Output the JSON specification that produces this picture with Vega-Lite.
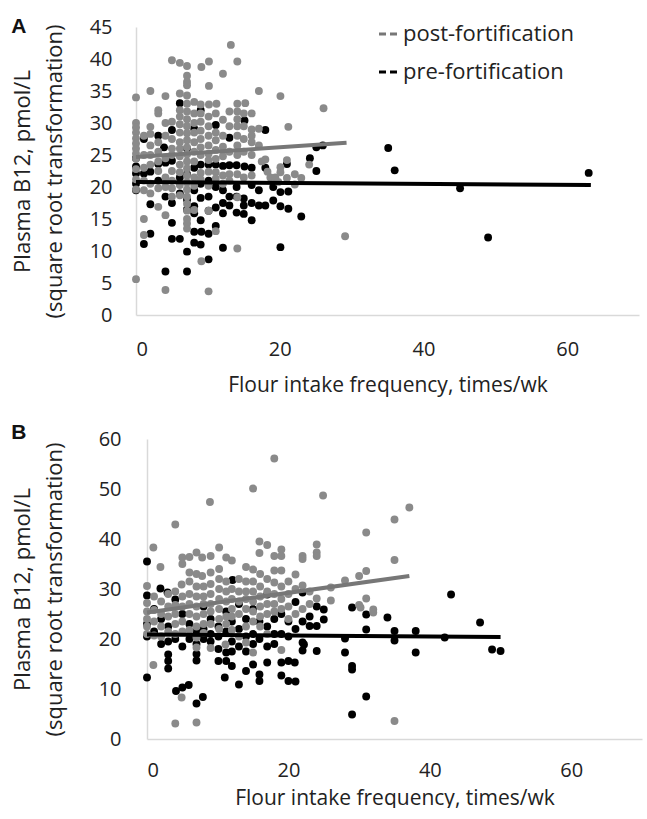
{
  "$schema": "https://vega.github.io/schema/vega-lite/v6.json",
  "background": "white",
  "padding": {"left": 11, "top": 16, "right": 2, "bottom": 0},
  "config": {
    "font": "Open Sans",
    "view": {"stroke": null},
    "axis": {"grid": false, "ticks": false, "labelOverlap": false, "domainColor": "#d9d9d9", "domainWidth": 1.5, "labelFont": "Open Sans", "labelFontSize": 20, "labelColor": "#222222", "titleFont": "Open Sans", "titleFontSize": 21, "titleFontWeight": "normal", "titleColor": "#222222"},
    "title": {"font": "Liberation Sans", "fontSize": 21, "fontWeight": "bold", "color": "#111111", "anchor": "start", "frame": "bounds"}
  },
  "datasets": {
    "a": [
      {"x":0,"y":24.5,"g":"pre"},{"x":0,"y":23.2,"g":"pre"},{"x":0,"y":22.1,"g":"pre"},{"x":0,"y":20.5,"g":"pre"},{"x":0,"y":19.5,"g":"pre"},
      {"x":1.1,"y":27.5,"g":"pre"},{"x":1.1,"y":22.1,"g":"pre"},{"x":1.1,"y":11.1,"g":"pre"},
      {"x":2,"y":22.4,"g":"pre"},{"x":2,"y":17.3,"g":"pre"},{"x":2,"y":12.7,"g":"pre"},
      {"x":3.1,"y":28,"g":"pre"},{"x":3.1,"y":23.6,"g":"pre"},{"x":3.1,"y":21,"g":"pre"},
      {"x":3.9,"y":26.2,"g":"pre"},{"x":4.1,"y":23.8,"g":"pre"},{"x":4.1,"y":6.8,"g":"pre"},{"x":4.1,"y":18.5,"g":"pre"},
      {"x":5,"y":28.9,"g":"pre"},{"x":5,"y":24.1,"g":"pre"},{"x":5,"y":14.4,"g":"pre"},{"x":5,"y":11.9,"g":"pre"},{"x":5,"y":17.5,"g":"pre"},
      {"x":6.1,"y":33.1,"g":"pre"},{"x":6.1,"y":21.5,"g":"pre"},{"x":6.1,"y":11.9,"g":"pre"},{"x":6.1,"y":19,"g":"pre"},
      {"x":7.1,"y":26,"g":"pre"},{"x":7.1,"y":22,"g":"pre"},{"x":7.1,"y":18,"g":"pre"},{"x":7.1,"y":16.5,"g":"pre"},{"x":7.1,"y":9.9,"g":"pre"},{"x":7.1,"y":6.8,"g":"pre"},
      {"x":8.1,"y":29.1,"g":"pre"},{"x":8.1,"y":23,"g":"pre"},{"x":8.1,"y":19.5,"g":"pre"},{"x":8.1,"y":17,"g":"pre"},{"x":8.1,"y":15.9,"g":"pre"},{"x":8.1,"y":13,"g":"pre"},{"x":8.1,"y":11.3,"g":"pre"},
      {"x":9,"y":32,"g":"pre"},{"x":9,"y":23.5,"g":"pre"},{"x":9,"y":20.5,"g":"pre"},{"x":9,"y":18.3,"g":"pre"},{"x":9,"y":14.8,"g":"pre"},{"x":9.1,"y":13,"g":"pre"},{"x":9,"y":11,"g":"pre"},
      {"x":10.1,"y":23.5,"g":"pre"},{"x":10.1,"y":21,"g":"pre"},{"x":10.1,"y":18.5,"g":"pre"},{"x":10.1,"y":16.3,"g":"pre"},{"x":10.1,"y":12.7,"g":"pre"},{"x":10.1,"y":8.7,"g":"pre"},
      {"x":11.1,"y":29.7,"g":"pre"},{"x":11.1,"y":23.5,"g":"pre"},{"x":11.1,"y":20,"g":"pre"},{"x":11.1,"y":16.8,"g":"pre"},{"x":11.1,"y":13.9,"g":"pre"},
      {"x":12.1,"y":23.3,"g":"pre"},{"x":12.1,"y":19.5,"g":"pre"},{"x":12.1,"y":17.5,"g":"pre"},{"x":12.1,"y":15.9,"g":"pre"},{"x":12.1,"y":10.5,"g":"pre"},
      {"x":13,"y":27.7,"g":"pre"},{"x":13,"y":23.4,"g":"pre"},{"x":13,"y":18.5,"g":"pre"},{"x":13,"y":17.1,"g":"pre"},
      {"x":14,"y":23.4,"g":"pre"},{"x":14,"y":20,"g":"pre"},{"x":14,"y":18.5,"g":"pre"},{"x":14,"y":16,"g":"pre"},
      {"x":15.1,"y":30.4,"g":"pre"},{"x":15.1,"y":23.2,"g":"pre"},{"x":15,"y":18.2,"g":"pre"},{"x":15,"y":17.1,"g":"pre"},{"x":15,"y":15.8,"g":"pre"},
      {"x":16.1,"y":23,"g":"pre"},{"x":16.1,"y":20.3,"g":"pre"},{"x":16.1,"y":14.8,"g":"pre"},{"x":16.1,"y":17.5,"g":"pre"},
      {"x":17.1,"y":17.1,"g":"pre"},{"x":17.1,"y":19.5,"g":"pre"},
      {"x":18,"y":28.9,"g":"pre"},{"x":18,"y":23,"g":"pre"},{"x":18,"y":17.1,"g":"pre"},
      {"x":19.1,"y":17.9,"g":"pre"},{"x":19.1,"y":20,"g":"pre"},
      {"x":20.1,"y":19.2,"g":"pre"},{"x":20.1,"y":17,"g":"pre"},{"x":20.1,"y":10.6,"g":"pre"},
      {"x":21.2,"y":19.3,"g":"pre"},{"x":21.2,"y":16.6,"g":"pre"},{"x":21,"y":23.6,"g":"pre"},
      {"x":23,"y":15.4,"g":"pre"},{"x":24.2,"y":24.5,"g":"pre"},{"x":25.1,"y":22.5,"g":"pre"},{"x":25.1,"y":26.2,"g":"pre"},{"x":26,"y":26.5,"g":"pre"},
      {"x":35.1,"y":26.1,"g":"pre"},{"x":36,"y":22.6,"g":"pre"},{"x":45.1,"y":19.8,"g":"pre"},{"x":49,"y":12.1,"g":"pre"},{"x":63,"y":22.2,"g":"pre"},

      {"x":0,"y":34,"g":"post"},{"x":0,"y":30,"g":"post"},{"x":0,"y":29.3,"g":"post"},{"x":0,"y":28.5,"g":"post"},{"x":0,"y":27.6,"g":"post"},{"x":0,"y":26.8,"g":"post"},{"x":0,"y":26,"g":"post"},{"x":0,"y":25.2,"g":"post"},{"x":0,"y":24.4,"g":"post"},{"x":0,"y":22.8,"g":"post"},{"x":0,"y":21.2,"g":"post"},{"x":0,"y":19.6,"g":"post"},{"x":0,"y":5.6,"g":"post"},
      {"x":1.1,"y":28,"g":"post"},{"x":1.1,"y":25,"g":"post"},{"x":1.1,"y":23,"g":"post"},{"x":1.1,"y":21,"g":"post"},{"x":1.1,"y":19.5,"g":"post"},{"x":1.1,"y":15,"g":"post"},{"x":1.1,"y":12.5,"g":"post"},
      {"x":2,"y":35,"g":"post"},{"x":2,"y":29.4,"g":"post"},{"x":2,"y":28.3,"g":"post"},{"x":2,"y":26.5,"g":"post"},{"x":2,"y":25,"g":"post"},{"x":2,"y":23.5,"g":"post"},{"x":2,"y":20.5,"g":"post"},{"x":2,"y":19,"g":"post"},
      {"x":3.1,"y":32,"g":"post"},{"x":3.1,"y":31.5,"g":"post"},{"x":3.1,"y":27,"g":"post"},{"x":3.1,"y":25.5,"g":"post"},{"x":3.1,"y":24,"g":"post"},{"x":3.1,"y":22.5,"g":"post"},{"x":3.1,"y":19.8,"g":"post"},{"x":3.1,"y":16.9,"g":"post"},
      {"x":4.1,"y":34.2,"g":"post"},{"x":4.1,"y":30,"g":"post"},{"x":4.1,"y":28,"g":"post"},{"x":4.1,"y":24.5,"g":"post"},{"x":4.1,"y":21.5,"g":"post"},{"x":4.1,"y":20,"g":"post"},{"x":4.1,"y":15.6,"g":"post"},{"x":4.1,"y":3.9,"g":"post"},
      {"x":5,"y":39.8,"g":"post"},{"x":5,"y":30.2,"g":"post"},{"x":5,"y":27.5,"g":"post"},{"x":5,"y":26,"g":"post"},{"x":5,"y":25,"g":"post"},{"x":5,"y":22.5,"g":"post"},{"x":5,"y":21,"g":"post"},{"x":5,"y":19.8,"g":"post"},{"x":5,"y":18.5,"g":"post"},
      {"x":6.1,"y":39.4,"g":"post"},{"x":6.1,"y":34.6,"g":"post"},{"x":6.1,"y":32,"g":"post"},{"x":6.1,"y":31,"g":"post"},{"x":6.1,"y":29.8,"g":"post"},{"x":6.1,"y":28.5,"g":"post"},{"x":6.1,"y":27,"g":"post"},{"x":6.1,"y":26,"g":"post"},{"x":6.1,"y":24.8,"g":"post"},{"x":6.1,"y":23.5,"g":"post"},{"x":6.1,"y":22.3,"g":"post"},{"x":6.1,"y":20.3,"g":"post"},{"x":6.1,"y":18.7,"g":"post"},
      {"x":7.1,"y":38.9,"g":"post"},{"x":7.1,"y":37.4,"g":"post"},{"x":7.1,"y":36.4,"g":"post"},{"x":7.1,"y":35.9,"g":"post"},{"x":7.1,"y":34.3,"g":"post"},{"x":7.1,"y":33,"g":"post"},{"x":7.1,"y":31.8,"g":"post"},{"x":7.1,"y":30.6,"g":"post"},{"x":7.1,"y":29.5,"g":"post"},{"x":7.1,"y":28.4,"g":"post"},{"x":7.1,"y":27.3,"g":"post"},{"x":7.1,"y":26.2,"g":"post"},{"x":7.1,"y":25.1,"g":"post"},{"x":7.1,"y":24,"g":"post"},{"x":7.1,"y":22.9,"g":"post"},{"x":7.1,"y":21.8,"g":"post"},{"x":7.1,"y":20.7,"g":"post"},{"x":7.1,"y":19.6,"g":"post"},{"x":7.1,"y":18.5,"g":"post"},{"x":7.1,"y":17.4,"g":"post"},{"x":7.1,"y":16.3,"g":"post"},{"x":7.1,"y":15,"g":"post"},{"x":7.1,"y":14.3,"g":"post"},{"x":7.1,"y":13.5,"g":"post"},
      {"x":8.1,"y":33.3,"g":"post"},{"x":8.1,"y":31.5,"g":"post"},{"x":8.1,"y":30,"g":"post"},{"x":8.1,"y":28.5,"g":"post"},{"x":8.1,"y":27,"g":"post"},{"x":8.1,"y":25.5,"g":"post"},{"x":8.1,"y":24,"g":"post"},{"x":8.1,"y":21.5,"g":"post"},{"x":8.1,"y":20.2,"g":"post"},{"x":8.1,"y":16.4,"g":"post"},
      {"x":9.1,"y":38.75,"g":"post"},{"x":9,"y":32.9,"g":"post"},{"x":9,"y":31.5,"g":"post"},{"x":9,"y":30.2,"g":"post"},{"x":9,"y":28.8,"g":"post"},{"x":9,"y":27.5,"g":"post"},{"x":9,"y":26.2,"g":"post"},{"x":9,"y":25,"g":"post"},{"x":9,"y":22.2,"g":"post"},{"x":9,"y":21.2,"g":"post"},{"x":9.1,"y":8.4,"g":"post"},
      {"x":10.15,"y":39.6,"g":"post"},{"x":10.15,"y":35.8,"g":"post"},{"x":10.15,"y":32.9,"g":"post"},{"x":10.1,"y":31,"g":"post"},{"x":10.1,"y":29.5,"g":"post"},{"x":10.1,"y":28,"g":"post"},{"x":10.1,"y":26.5,"g":"post"},{"x":10.1,"y":25.2,"g":"post"},{"x":10.1,"y":24.2,"g":"post"},{"x":10.1,"y":22.4,"g":"post"},{"x":10.1,"y":20.2,"g":"post"},{"x":10.1,"y":16.3,"g":"post"},{"x":10.1,"y":3.7,"g":"post"},
      {"x":11.2,"y":33,"g":"post"},{"x":11.1,"y":31.5,"g":"post"},{"x":11.1,"y":28.5,"g":"post"},{"x":11.1,"y":27.3,"g":"post"},{"x":11.1,"y":25.8,"g":"post"},{"x":11.1,"y":24.4,"g":"post"},{"x":11.1,"y":22.3,"g":"post"},{"x":11.1,"y":21.3,"g":"post"},{"x":11.1,"y":13.1,"g":"post"},
      {"x":12.1,"y":37.7,"g":"post"},{"x":12.1,"y":30.5,"g":"post"},{"x":12.1,"y":28,"g":"post"},{"x":12.1,"y":26.3,"g":"post"},{"x":12.1,"y":24.8,"g":"post"},{"x":12.1,"y":21.8,"g":"post"},{"x":12.1,"y":20.5,"g":"post"},
      {"x":13.2,"y":42.2,"g":"post"},{"x":13,"y":31.8,"g":"post"},{"x":13,"y":29.5,"g":"post"},{"x":13,"y":25.5,"g":"post"},{"x":13,"y":22,"g":"post"},{"x":13,"y":21,"g":"post"},
      {"x":14.1,"y":39.6,"g":"post"},{"x":14.1,"y":33,"g":"post"},{"x":14.1,"y":31.8,"g":"post"},{"x":14.1,"y":30.6,"g":"post"},{"x":14.1,"y":29.5,"g":"post"},{"x":14.1,"y":28,"g":"post"},{"x":14.1,"y":26.5,"g":"post"},{"x":14.1,"y":25,"g":"post"},{"x":14.1,"y":22,"g":"post"},{"x":14.1,"y":18.4,"g":"post"},{"x":14.1,"y":10.4,"g":"post"},
      {"x":15.2,"y":33.1,"g":"post"},{"x":15,"y":31.5,"g":"post"},{"x":15,"y":29.5,"g":"post"},{"x":15,"y":27.5,"g":"post"},{"x":15,"y":25.5,"g":"post"},{"x":15,"y":21.5,"g":"post"},
      {"x":16.1,"y":31.5,"g":"post"},{"x":16.1,"y":29,"g":"post"},{"x":16.1,"y":28,"g":"post"},{"x":16.1,"y":27,"g":"post"},{"x":16.1,"y":25,"g":"post"},{"x":16.1,"y":21.8,"g":"post"},
      {"x":17.1,"y":35,"g":"post"},{"x":17.1,"y":29.1,"g":"post"},{"x":17.1,"y":26.5,"g":"post"},{"x":17.5,"y":24,"g":"post"},
      {"x":18,"y":24.3,"g":"post"},{"x":18.3,"y":22.4,"g":"post"},{"x":18.7,"y":21.5,"g":"post"},
      {"x":19.4,"y":21.5,"g":"post"},{"x":19.8,"y":20.8,"g":"post"},
      {"x":20.1,"y":34.2,"g":"post"},{"x":20.1,"y":23.1,"g":"post"},{"x":20.1,"y":22.3,"g":"post"},
      {"x":21.2,"y":29.4,"g":"post"},{"x":21,"y":24.2,"g":"post"},{"x":21,"y":21.4,"g":"post"},
      {"x":22.1,"y":22,"g":"post"},{"x":23,"y":21.4,"g":"post"},{"x":22.1,"y":20.4,"g":"post"},
      {"x":24.1,"y":23.5,"g":"post"},{"x":26.1,"y":32.3,"g":"post"},{"x":29.1,"y":12.3,"g":"post"}
    ],
    "aline": [
      {"x":0,"y":24.7,"g":"post-fortification"},{"x":29.3,"y":26.9,"g":"post-fortification"},
      {"x":0,"y":20.8,"g":"pre-fortification"},{"x":63.3,"y":20.3,"g":"pre-fortification"}
    ],
    "b": [
      {"x":0,"y":35.5,"g":"pre"},{"x":0,"y":28.7,"g":"pre"},{"x":0,"y":23,"g":"pre"},{"x":0,"y":20.5,"g":"pre"},{"x":0,"y":12.3,"g":"pre"},
      {"x":1,"y":26,"g":"pre"},{"x":1,"y":21.5,"g":"pre"},
      {"x":1.9,"y":30.1,"g":"pre"},{"x":2,"y":24,"g":"pre"},{"x":2,"y":19,"g":"pre"},
      {"x":2.9,"y":29.3,"g":"pre"},{"x":3,"y":22.5,"g":"pre"},{"x":3,"y":19.5,"g":"pre"},{"x":3,"y":16.9,"g":"pre"},{"x":3,"y":15.6,"g":"pre"},{"x":3,"y":14.1,"g":"pre"},
      {"x":4,"y":27.9,"g":"pre"},{"x":4,"y":20,"g":"pre"},{"x":4.1,"y":9.6,"g":"pre"},
      {"x":5,"y":25,"g":"pre"},{"x":5,"y":18.5,"g":"pre"},{"x":5,"y":10.3,"g":"pre"},
      {"x":6,"y":23,"g":"pre"},{"x":6,"y":20,"g":"pre"},{"x":5.9,"y":10.8,"g":"pre"},
      {"x":7,"y":21.5,"g":"pre"},{"x":7,"y":19,"g":"pre"},{"x":7,"y":17,"g":"pre"},{"x":7,"y":15.7,"g":"pre"},{"x":7,"y":7.1,"g":"pre"},
      {"x":8,"y":26.5,"g":"pre"},{"x":8,"y":22,"g":"pre"},{"x":8,"y":20,"g":"pre"},{"x":7.9,"y":8.4,"g":"pre"},
      {"x":9,"y":24,"g":"pre"},{"x":9,"y":21,"g":"pre"},{"x":9,"y":19.5,"g":"pre"},
      {"x":10.1,"y":22.5,"g":"pre"},{"x":10.1,"y":20.5,"g":"pre"},{"x":10.1,"y":18,"g":"pre"},{"x":10.1,"y":15.6,"g":"pre"},
      {"x":11.2,"y":25.5,"g":"pre"},{"x":11.2,"y":21.5,"g":"pre"},{"x":11.2,"y":17.3,"g":"pre"},{"x":11.2,"y":15.6,"g":"pre"},{"x":11,"y":12.3,"g":"pre"},
      {"x":12.1,"y":31.8,"g":"pre"},{"x":12,"y":23.5,"g":"pre"},{"x":12,"y":19.5,"g":"pre"},{"x":12,"y":17.5,"g":"pre"},{"x":12,"y":14.6,"g":"pre"},
      {"x":13,"y":27,"g":"pre"},{"x":13,"y":22,"g":"pre"},{"x":13,"y":18.5,"g":"pre"},{"x":13,"y":10.9,"g":"pre"},
      {"x":14,"y":24,"g":"pre"},{"x":14,"y":20.5,"g":"pre"},{"x":14,"y":17.5,"g":"pre"},{"x":14,"y":13.6,"g":"pre"},
      {"x":15,"y":26,"g":"pre"},{"x":15,"y":21,"g":"pre"},{"x":15,"y":14.9,"g":"pre"},{"x":15,"y":19,"g":"pre"},
      {"x":15.9,"y":23.5,"g":"pre"},{"x":15.9,"y":20,"g":"pre"},{"x":15.9,"y":12.9,"g":"pre"},{"x":15.9,"y":11.6,"g":"pre"},
      {"x":17,"y":28.9,"g":"pre"},{"x":17,"y":22.5,"g":"pre"},{"x":17,"y":18.5,"g":"pre"},{"x":17,"y":15.3,"g":"pre"},
      {"x":18,"y":24,"g":"pre"},{"x":18,"y":21,"g":"pre"},{"x":18,"y":19,"g":"pre"},
      {"x":19,"y":25,"g":"pre"},{"x":19,"y":21,"g":"pre"},{"x":19,"y":15.3,"g":"pre"},{"x":19,"y":12.7,"g":"pre"},
      {"x":20,"y":23.5,"g":"pre"},{"x":20,"y":20.5,"g":"pre"},{"x":20,"y":15.6,"g":"pre"},{"x":20,"y":11.6,"g":"pre"},
      {"x":21,"y":27.4,"g":"pre"},{"x":21,"y":22,"g":"pre"},{"x":20.9,"y":15.3,"g":"pre"},{"x":21,"y":11.5,"g":"pre"},
      {"x":22,"y":29.3,"g":"pre"},{"x":22,"y":23.5,"g":"pre"},{"x":22,"y":19.3,"g":"pre"},{"x":22,"y":17.7,"g":"pre"},{"x":22.2,"y":18.9,"g":"pre"},
      {"x":23,"y":22.6,"g":"pre"},{"x":23,"y":24.5,"g":"pre"},
      {"x":24,"y":26.5,"g":"pre"},{"x":24,"y":22.6,"g":"pre"},{"x":24,"y":17.6,"g":"pre"},
      {"x":25,"y":25.9,"g":"pre"},{"x":25,"y":23.9,"g":"pre"},
      {"x":28,"y":20.1,"g":"pre"},{"x":28,"y":17.3,"g":"pre"},
      {"x":29,"y":26.3,"g":"pre"},{"x":29,"y":14.6,"g":"pre"},{"x":29,"y":13.9,"g":"pre"},{"x":29,"y":4.9,"g":"pre"},
      {"x":31,"y":24.9,"g":"pre"},{"x":31,"y":21.9,"g":"pre"},{"x":31,"y":8.5,"g":"pre"},
      {"x":34,"y":24.3,"g":"pre"},{"x":35,"y":21.6,"g":"pre"},{"x":35,"y":19.7,"g":"pre"},
      {"x":38,"y":21.6,"g":"pre"},{"x":38,"y":17.3,"g":"pre"},{"x":42.1,"y":20.3,"g":"pre"},{"x":43,"y":28.9,"g":"pre"},
      {"x":47.1,"y":23.3,"g":"pre"},{"x":48.8,"y":17.9,"g":"pre"},{"x":50,"y":17.6,"g":"pre"},

      {"x":0,"y":30.6,"g":"post"},{"x":0,"y":27.2,"g":"post"},{"x":0,"y":25.5,"g":"post"},{"x":0,"y":24,"g":"post"},{"x":0,"y":22.5,"g":"post"},{"x":0,"y":21,"g":"post"},
      {"x":0.9,"y":38.3,"g":"post"},{"x":1,"y":28.5,"g":"post"},{"x":1,"y":25.8,"g":"post"},{"x":1,"y":23.5,"g":"post"},{"x":1,"y":20.7,"g":"post"},{"x":0.9,"y":14.8,"g":"post"},
      {"x":1.9,"y":34.4,"g":"post"},{"x":2,"y":27.5,"g":"post"},{"x":2,"y":25,"g":"post"},{"x":2,"y":22.5,"g":"post"},{"x":2,"y":20.5,"g":"post"},
      {"x":3,"y":29,"g":"post"},{"x":3,"y":26.5,"g":"post"},{"x":3,"y":24.5,"g":"post"},{"x":3,"y":21.5,"g":"post"},
      {"x":4,"y":42.9,"g":"post"},{"x":4,"y":29.5,"g":"post"},{"x":4,"y":26.8,"g":"post"},{"x":4,"y":25,"g":"post"},{"x":4,"y":23,"g":"post"},{"x":4,"y":21,"g":"post"},{"x":4,"y":3.1,"g":"post"},
      {"x":5,"y":36.3,"g":"post"},{"x":5,"y":35,"g":"post"},{"x":4.9,"y":30.9,"g":"post"},{"x":5,"y":28.5,"g":"post"},{"x":5,"y":26.5,"g":"post"},{"x":5,"y":23.5,"g":"post"},{"x":5,"y":21.5,"g":"post"},{"x":4.9,"y":8.3,"g":"post"},
      {"x":6,"y":36.4,"g":"post"},{"x":6,"y":33.3,"g":"post"},{"x":6,"y":31.5,"g":"post"},{"x":6,"y":29,"g":"post"},{"x":6,"y":27,"g":"post"},{"x":6,"y":25,"g":"post"},{"x":6,"y":21.8,"g":"post"},
      {"x":7,"y":37.3,"g":"post"},{"x":7,"y":33,"g":"post"},{"x":7,"y":30.5,"g":"post"},{"x":7,"y":28.5,"g":"post"},{"x":7,"y":26.5,"g":"post"},{"x":7,"y":24.5,"g":"post"},{"x":7,"y":22.5,"g":"post"},{"x":7,"y":20.3,"g":"post"},{"x":7,"y":18.3,"g":"post"},{"x":7,"y":3.3,"g":"post"},
      {"x":7.8,"y":36.3,"g":"post"},{"x":7.8,"y":32.6,"g":"post"},{"x":8,"y":30.5,"g":"post"},{"x":8,"y":28.5,"g":"post"},{"x":8,"y":27,"g":"post"},{"x":8,"y":25,"g":"post"},{"x":8,"y":23,"g":"post"},{"x":8,"y":21.2,"g":"post"},
      {"x":8.9,"y":47.4,"g":"post"},{"x":9,"y":36.6,"g":"post"},{"x":9,"y":33.3,"g":"post"},{"x":9,"y":31,"g":"post"},{"x":9,"y":29,"g":"post"},{"x":9,"y":27,"g":"post"},{"x":9,"y":25.5,"g":"post"},{"x":9,"y":23,"g":"post"},{"x":9,"y":18.2,"g":"post"},
      {"x":10.2,"y":38.3,"g":"post"},{"x":10.2,"y":34,"g":"post"},{"x":10.2,"y":32,"g":"post"},{"x":10.2,"y":30,"g":"post"},{"x":10.2,"y":28,"g":"post"},{"x":10.2,"y":26,"g":"post"},{"x":10.2,"y":24,"g":"post"},{"x":10.2,"y":22,"g":"post"},
      {"x":11.2,"y":36.3,"g":"post"},{"x":11.2,"y":31.5,"g":"post"},{"x":11.2,"y":29.5,"g":"post"},{"x":11.2,"y":27.5,"g":"post"},{"x":11.2,"y":24.5,"g":"post"},{"x":11.2,"y":23,"g":"post"},{"x":11.1,"y":18.9,"g":"post"},
      {"x":12,"y":35.7,"g":"post"},{"x":12,"y":30,"g":"post"},{"x":12,"y":28,"g":"post"},{"x":12,"y":26,"g":"post"},{"x":12,"y":24.5,"g":"post"},{"x":12,"y":21.8,"g":"post"},
      {"x":13,"y":32,"g":"post"},{"x":13,"y":29.5,"g":"post"},{"x":13,"y":27.5,"g":"post"},{"x":13,"y":25,"g":"post"},{"x":13,"y":20.5,"g":"post"},
      {"x":14,"y":34.4,"g":"post"},{"x":14,"y":31.5,"g":"post"},{"x":14,"y":29.5,"g":"post"},{"x":14,"y":28,"g":"post"},{"x":14,"y":26,"g":"post"},{"x":14,"y":22.5,"g":"post"},{"x":14,"y":19.3,"g":"post"},
      {"x":15,"y":50.1,"g":"post"},{"x":15,"y":33.9,"g":"post"},{"x":15,"y":31.5,"g":"post"},{"x":15,"y":29.5,"g":"post"},{"x":15,"y":27.5,"g":"post"},{"x":15,"y":25.5,"g":"post"},{"x":15,"y":23.5,"g":"post"},{"x":15,"y":17.3,"g":"post"},
      {"x":15.9,"y":39.5,"g":"post"},{"x":15.9,"y":37.2,"g":"post"},{"x":16,"y":33,"g":"post"},{"x":16,"y":30.5,"g":"post"},{"x":16,"y":28.5,"g":"post"},{"x":16,"y":26.5,"g":"post"},{"x":16,"y":24.5,"g":"post"},{"x":16,"y":22.5,"g":"post"},
      {"x":17,"y":38.8,"g":"post"},{"x":17,"y":32,"g":"post"},{"x":17,"y":29.5,"g":"post"},{"x":17,"y":27,"g":"post"},{"x":17,"y":25,"g":"post"},{"x":17,"y":21,"g":"post"},
      {"x":18,"y":56.1,"g":"post"},{"x":18,"y":36.6,"g":"post"},{"x":18,"y":33.7,"g":"post"},{"x":18,"y":31.3,"g":"post"},{"x":18,"y":29,"g":"post"},{"x":18,"y":27,"g":"post"},{"x":18,"y":25.5,"g":"post"},
      {"x":19,"y":37.9,"g":"post"},{"x":19,"y":36.6,"g":"post"},{"x":19,"y":33.7,"g":"post"},{"x":19,"y":30.5,"g":"post"},{"x":19,"y":28,"g":"post"},{"x":19,"y":26,"g":"post"},{"x":19,"y":17.8,"g":"post"},
      {"x":20,"y":31.5,"g":"post"},{"x":20,"y":29,"g":"post"},{"x":20,"y":26.5,"g":"post"},{"x":20,"y":24,"g":"post"},
      {"x":21,"y":32.9,"g":"post"},{"x":21,"y":30,"g":"post"},{"x":21,"y":25,"g":"post"},
      {"x":22,"y":36.6,"g":"post"},{"x":22,"y":36,"g":"post"},{"x":22,"y":30.7,"g":"post"},{"x":22,"y":26,"g":"post"},
      {"x":23,"y":29.5,"g":"post"},{"x":23,"y":27,"g":"post"},
      {"x":24,"y":38.9,"g":"post"},{"x":24,"y":37.3,"g":"post"},{"x":24,"y":36.6,"g":"post"},{"x":24,"y":28.1,"g":"post"},
      {"x":24.9,"y":48.7,"g":"post"},{"x":26,"y":30.3,"g":"post"},{"x":26,"y":27.7,"g":"post"},{"x":28,"y":31.7,"g":"post"},
      {"x":30,"y":32.6,"g":"post"},{"x":30,"y":26.8,"g":"post"},{"x":30.2,"y":26.3,"g":"post"},
      {"x":31,"y":41.3,"g":"post"},{"x":31,"y":33.6,"g":"post"},{"x":31,"y":28.1,"g":"post"},
      {"x":32,"y":25.9,"g":"post"},{"x":32,"y":25.3,"g":"post"},
      {"x":35,"y":43.9,"g":"post"},{"x":35,"y":35.8,"g":"post"},{"x":35,"y":3.6,"g":"post"},{"x":37.1,"y":46.3,"g":"post"}
    ],
    "bline": [
      {"x":0,"y":25.3,"g":"post-fortification"},{"x":37.1,"y":32.6,"g":"post-fortification"},
      {"x":0,"y":20.9,"g":"pre-fortification"},{"x":50,"y":20.4,"g":"pre-fortification"}
    ]
  },
  "columns": 1,
  "align": "none",
  "bounds": "full",
  "spacing": 27,
  "concat": [
    {
      "width": 503,
      "height": 288,
      "title": {"text": "A", "offset": -20},
      "layer": [
        {
          "data": {"name": "a"},
          "mark": {"type": "point", "filled": true, "size": 62, "opacity": 1, "strokeWidth": 0},
          "encoding": {
            "x": {"field": "x", "type": "quantitative", "scale": {"domain": [0, 70], "nice": false}, "axis": {"values": [0, 20, 40, 60], "labelPadding": 24, "title": "Flour intake frequency, times/wk", "titlePadding": 15}},
            "y": {"field": "y", "type": "quantitative", "scale": {"domain": [0, 45], "nice": false}, "axis": {"values": [0, 5, 10, 15, 20, 25, 30, 35, 40, 45], "labelOverlap": false, "labelPadding": 24, "title": ["Plasma B12, pmol/L", "(square root transformation)"], "titleFontSize": 22, "titleLineHeight": 32, "titlePadding": 23}},
            "fill": {"field": "g", "type": "nominal", "scale": {"domain": ["post", "pre"], "range": ["#8a8a8a", "#000000"]}, "legend": null}
          }
        },
        {
          "data": {"name": "aline"},
          "mark": {"type": "line", "strokeWidth": 4},
          "encoding": {
            "x": {"field": "x", "type": "quantitative", "scale": {"domain": [0, 70], "nice": false}, "axis": {"values": [0, 20, 40, 60], "labelPadding": 24, "title": "Flour intake frequency, times/wk", "titlePadding": 15}},
            "y": {"field": "y", "type": "quantitative", "scale": {"domain": [0, 45], "nice": false}, "axis": {"values": [0, 5, 10, 15, 20, 25, 30, 35, 40, 45], "labelOverlap": false, "labelPadding": 24, "title": ["Plasma B12, pmol/L", "(square root transformation)"], "titleFontSize": 22, "titleLineHeight": 32, "titlePadding": 23}},
            "detail": {"field": "g"},
            "stroke": {"field": "g", "type": "nominal", "scale": {"domain": ["post-fortification", "pre-fortification"], "range": ["#777777", "#000000"]},
              "legend": {"title": null, "orient": "none", "legendX": 241, "legendY": -4, "symbolType": "stroke", "symbolSize": 324, "symbolStrokeWidth": 3, "symbolDash": [7, 4], "labelFont": "Open Sans", "labelFontSize": 22, "labelLimit": 400, "labelColor": "#222222", "rowPadding": 16, "labelOffset": 4}}
          }
        }
      ]
    },
    {
      "width": 506,
      "height": 300,
      "title": {"text": "B", "offset": -14},
      "layer": [
        {
          "data": {"name": "b"},
          "mark": {"type": "point", "filled": true, "size": 62, "opacity": 1, "strokeWidth": 0},
          "encoding": {
            "x": {"field": "x", "type": "quantitative", "scale": {"domain": [0, 70], "nice": false, "range": [11, 506]}, "axis": {"values": [0, 20, 40, 60], "labelPadding": 21, "title": "Flour intake frequency, times/wk", "titlePadding": 7}},
            "y": {"field": "y", "type": "quantitative", "scale": {"domain": [0, 60], "nice": false}, "axis": {"values": [0, 10, 20, 30, 40, 50, 60], "offset": -11, "labelPadding": 26, "title": ["Plasma B12, pmol/L", "(square root transformation)"], "titleFontSize": 22, "titleLineHeight": 32, "titlePadding": 32}},
            "fill": {"field": "g", "type": "nominal", "scale": {"domain": ["post", "pre"], "range": ["#8a8a8a", "#000000"]}, "legend": null}
          }
        },
        {
          "data": {"name": "bline"},
          "mark": {"type": "line", "strokeWidth": 4},
          "encoding": {
            "x": {"field": "x", "type": "quantitative", "scale": {"domain": [0, 70], "nice": false, "range": [11, 506]}, "axis": {"values": [0, 20, 40, 60], "labelPadding": 21, "title": "Flour intake frequency, times/wk", "titlePadding": 7}},
            "y": {"field": "y", "type": "quantitative", "scale": {"domain": [0, 60], "nice": false}, "axis": {"values": [0, 10, 20, 30, 40, 50, 60], "offset": -11, "labelPadding": 26, "title": ["Plasma B12, pmol/L", "(square root transformation)"], "titleFontSize": 22, "titleLineHeight": 32, "titlePadding": 32}},
            "detail": {"field": "g"},
            "stroke": {"field": "g", "type": "nominal", "scale": {"domain": ["post-fortification", "pre-fortification"], "range": ["#666666", "#000000"]}, "legend": null}
          }
        }
      ]
    }
  ]
}
